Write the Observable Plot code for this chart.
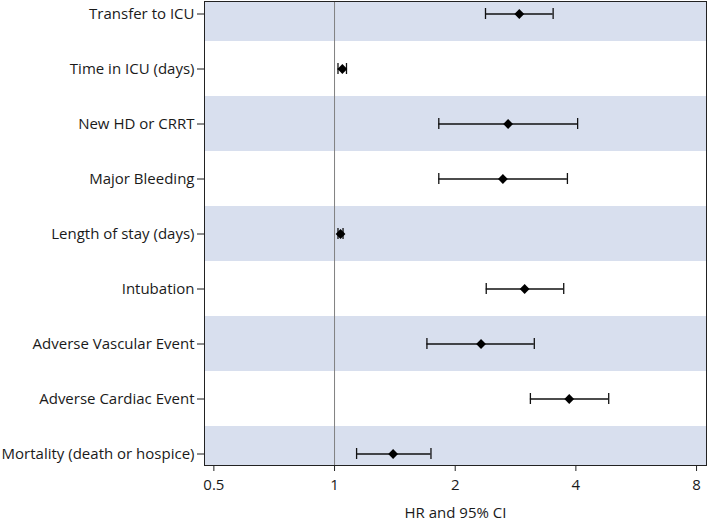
<!DOCTYPE html>
<html>
<head>
<meta charset="utf-8">
<script src="https://cdn.jsdelivr.net/npm/d3@7"></script>
<script src="https://cdn.jsdelivr.net/npm/@observablehq/plot@0.6"></script>
<style>
  html, body { margin: 0; padding: 0; background: #fff; }
  #chart svg { display: block; }
</style>
</head>
<body>
<div id="chart"></div>
<script>
const categories = [
  "Transfer to ICU",
  "Time in ICU (days)",
  "New HD or CRRT",
  "Major Bleeding",
  "Length of stay (days)",
  "Intubation",
  "Adverse Vascular Event",
  "Adverse Cardiac Event",
  "Mortality (death or hospice)"
];
const hr    = [2.89, 1.046, 2.71, 2.63, 1.035, 2.98, 2.32, 3.85, 1.40];
const lower = [2.38, 1.02,  1.82, 1.82, 1.02,  2.39, 1.70, 3.08, 1.135];
const upper = [3.51, 1.071, 4.04, 3.81, 1.05,  3.73, 3.15, 4.83, 1.74];
const xTicks = [0.5, 1, 2, 4, 8];
const xTickLabels = ["0.5", "1", "2", "4", "8"];
const refValue = 1;
const xDomain = [0.4738, 8.47];

const data = categories.map((name, i) => ({
  name, hr: hr[i], lo: lower[i], hi: upper[i], shaded: i % 2 === 0
}));
const tickData = xTicks.map((v, i) => ({ v, label: xTickLabels[i] }));

const plot = Plot.plot({
  width: 709,
  height: 523,
  marginLeft: 204,
  marginRight: 3,
  marginTop: 1,
  marginBottom: 58,
  style: { fontFamily: "'Open Sans', sans-serif", fontSize: "15px", color: "#1a1a1a", background: "#fff", overflow: "visible" },
  x: {
    type: "log",
    domain: xDomain
  },
  y: {
    type: "band",
    domain: categories,
    range: [-15.69, 482.69],
    padding: 0,
    label: null,
    tickSize: 7,
    tickPadding: 3
  },
  marks: [
    Plot.barX(data.filter(d => d.shaded), {
      x1: xDomain[0], x2: xDomain[1], y: "name", fill: "#d8dfee", clip: "frame"
    }),
    Plot.ruleX([refValue], { stroke: "#808080", strokeWidth: 1 }),
    Plot.ruleY(data, { y: "name", x1: "lo", x2: "hi", stroke: "#111", strokeWidth: 1.3 }),
    Plot.tickX(data, { y: "name", x: "lo", stroke: "#111", strokeWidth: 1.3, insetTop: 22, insetBottom: 22 }),
    Plot.tickX(data, { y: "name", x: "hi", stroke: "#111", strokeWidth: 1.3, insetTop: 22, insetBottom: 22 }),
    Plot.dot(data, { y: "name", x: "hr", symbol: "diamond2", r: 4.4, fill: "#000", stroke: "none" }),
    Plot.frame({ stroke: "#222", strokeWidth: 1 }),
    Plot.axisX({ ticks: xTicks, tickSize: 6, text: null, label: null, stroke: "#222" }),
    Plot.text(tickData, { x: "v", text: "label", frameAnchor: "bottom", dy: 24, fontSize: 15, fill: "#1a1a1a" }),
    Plot.text(["HR and 95% CI"], { text: d => d, frameAnchor: "bottom", dy: 52, fontSize: 15, fill: "#1a1a1a" })
  ]
});
document.getElementById("chart").appendChild(plot);
</script>
</body>
</html>
